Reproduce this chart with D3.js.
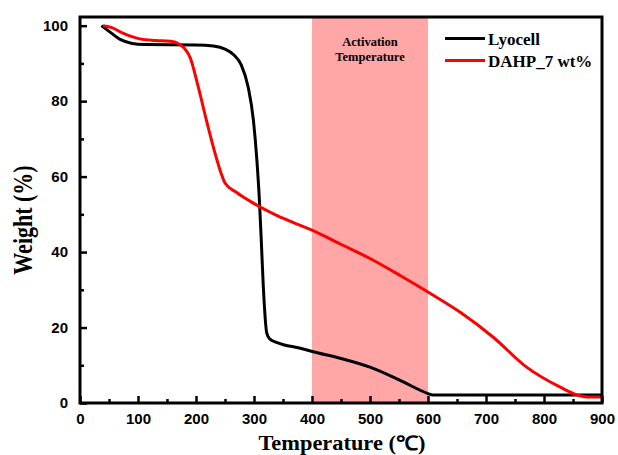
<!DOCTYPE html>
<html>
<head>
<meta charset="utf-8">
<script src="https://cdn.jsdelivr.net/npm/d3@7"></script>
<style>
  body { margin: 0; background: #fff; }
  .tick-label { font-family: "Liberation Sans", Arial, sans-serif; font-weight: bold; font-size: 15px; }
  .title { font-family: "Liberation Serif", "Times New Roman", serif; font-weight: bold; }
</style>
</head>
<body>
<div id="chart"></div>
<script>
// temperature (C) and weight (%)
const lyocellT = [37, 50, 70, 90, 110, 200, 230, 250, 265, 278, 290, 299, 305, 309, 312, 316, 322, 327, 340, 380, 402, 450, 500, 552, 600, 608, 700, 800, 900];
const lyocellW = [100, 98.5, 96.3, 95.3, 95, 94.9, 94.6, 93.8, 92.3, 89.6, 83.7, 74.9, 64.3, 54.6, 45, 31, 18.5, 17, 16, 14.5, 13.6, 11.8, 9.5, 6, 2.5, 2.1, 2.1, 2.1, 2.1];
const dahpT = [40, 55, 74, 103, 130, 155, 165, 172, 180, 190, 204, 218, 233, 243, 250, 270, 293, 339, 400, 448, 500, 552, 600, 655, 712, 770, 828, 860, 875, 900];
const dahpW = [100, 99.5, 98, 96.5, 96.1, 95.9, 95.6, 95, 94, 91.5, 83.7, 74.9, 66.1, 61, 58.3, 55.8, 53.5, 49.7, 45.8, 42.2, 38.3, 33.8, 29.4, 24.1, 17.5, 9.5, 4.2, 2, 1.6, 1.6];
const band = [400, 600];
const xTicks = [0, 100, 200, 300, 400, 500, 600, 700, 800, 900];
const yTicks = [0, 20, 40, 60, 80, 100];
const seriesNames = ["Lyocell", "DAHP_7 wt%"];
const seriesColors = ["#000000", "#ff0000"];

const margin = { top: 17, right: 16, bottom: 52, left: 80 },
  width = 618 - margin.left - margin.right,
  height = 455 - margin.top - margin.bottom;

const svg = d3.select("#chart").append("svg")
  .attr("width", 618).attr("height", 455)
  .append("g")
  .attr("transform", "translate(" + margin.left + "," + margin.top + ")");

const x = d3.scaleLinear().domain([0, 900]).range([0, width]);
const y = d3.scaleLinear().domain([0, 102.3]).range([height, 0]);

// activation band
svg.append("rect")
  .attr("x", x(band[0])).attr("y", 0)
  .attr("width", x(band[1]) - x(band[0])).attr("height", height)
  .attr("fill", "#ffa6a6");

svg.append("text").attr("class", "title")
  .attr("x", x(500)).attr("y", 29)
  .attr("text-anchor", "middle").style("font-size", "12.5px")
  .text("Activation");
svg.append("text").attr("class", "title")
  .attr("x", x(500)).attr("y", 44)
  .attr("text-anchor", "middle").style("font-size", "12.5px")
  .text("Temperature");

const line = d3.line()
  .x(d => x(d[0]))
  .y(d => y(d[1]))
  .curve(d3.curveMonotoneX);

const series = [
  d3.zip(lyocellT, lyocellW),
  d3.zip(dahpT, dahpW)
];

series.forEach((s, i) => {
  svg.append("path").datum(s)
    .attr("fill", "none")
    .attr("stroke", seriesColors[i])
    .attr("stroke-width", 3)
    .attr("stroke-linejoin", "round")
    .attr("d", line);
});

// axes with inward ticks
const xMinor = d3.range(50, 900, 100);
const yMinor = d3.range(10, 100, 20);

const gx = svg.append("g").attr("transform", "translate(0," + height + ")");
gx.call(d3.axisBottom(x).tickValues(xTicks).tickSizeInner(-7).tickSizeOuter(0).tickPadding(10));
const gxm = svg.append("g").attr("transform", "translate(0," + height + ")");
gxm.call(d3.axisBottom(x).tickValues(xMinor).tickSizeInner(-4).tickSizeOuter(0).tickFormat(""));

const gy = svg.append("g");
gy.call(d3.axisLeft(y).tickValues(yTicks).tickSizeInner(-7).tickSizeOuter(0).tickPadding(12));
const gym = svg.append("g");
gym.call(d3.axisLeft(y).tickValues(yMinor).tickSizeInner(-4).tickSizeOuter(0).tickFormat(""));

[gx, gxm, gy, gym].forEach(g => {
  g.select(".domain").remove();
  g.selectAll(".tick line").attr("stroke", "#000").attr("stroke-width", 2.5);
  g.selectAll(".tick text").attr("class", "tick-label").attr("fill", "#000");
});

// frame
svg.append("rect")
  .attr("x", 0).attr("y", 0).attr("width", width).attr("height", height)
  .attr("fill", "none").attr("stroke", "#000").attr("stroke-width", 3);

// legend
const legend = svg.append("g").attr("transform", "translate(" + (445 - margin.left) + ",0)");
seriesNames.forEach((name, i) => {
  const ly = 21.5 + i * 22;
  legend.append("line")
    .attr("x1", 0).attr("x2", 40).attr("y1", ly).attr("y2", ly)
    .attr("stroke", seriesColors[i]).attr("stroke-width", 3);
  legend.append("text").attr("class", "title")
    .attr("x", 43).attr("y", ly + 6)
    .style("font-size", "17px")
    .text(name);
});

// axis titles (the source image is a little stretched sideways)
svg.append("text").attr("class", "title")
  .attr("transform", "translate(" + (width / 2 + 1) + "," + (height + 47) + ") scale(1.12,1)")
  .attr("text-anchor", "middle").style("font-size", "20px")
  .text("Temperature (℃)");
svg.append("text").attr("class", "title")
  .attr("transform", "translate(" + (-48) + "," + (height / 2 + 10) + ") rotate(-90) scale(1,1.2)")
  .attr("text-anchor", "middle").style("font-size", "22px")
  .text("Weight (%)");
</script>
</body>
</html>
